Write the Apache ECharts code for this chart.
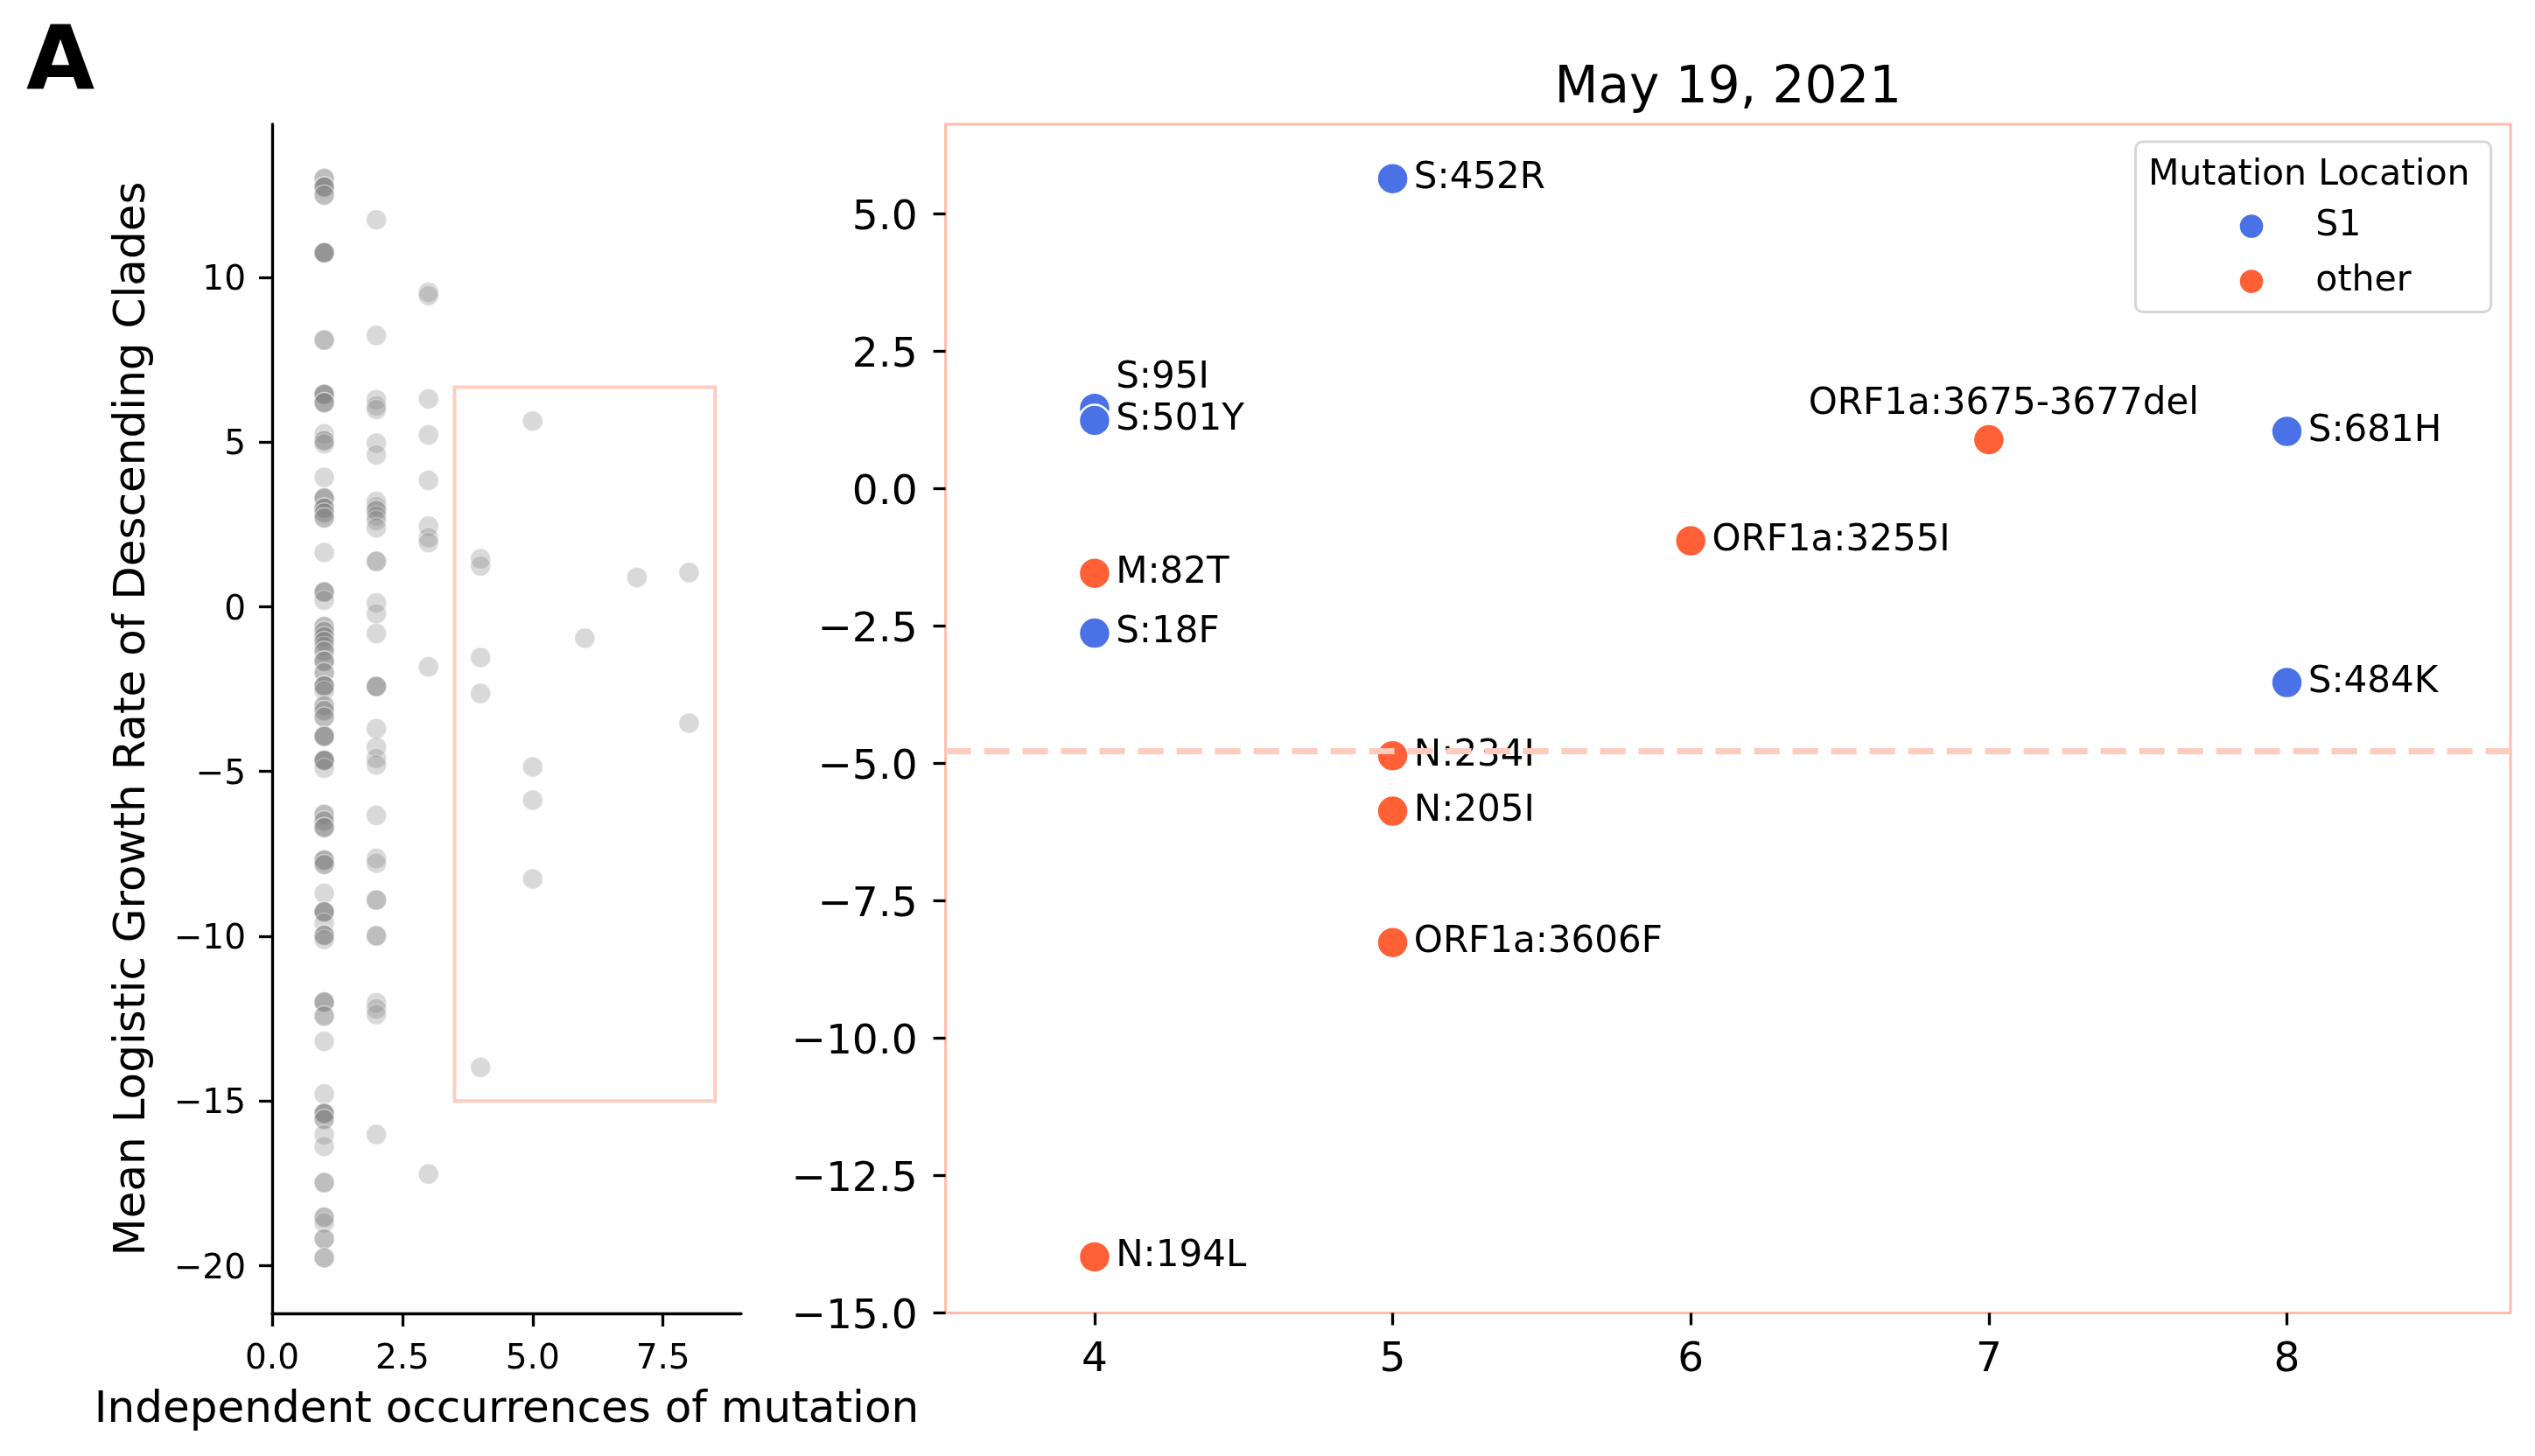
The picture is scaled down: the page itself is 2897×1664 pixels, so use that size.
<!DOCTYPE html>
<html>
<head>
<meta charset="utf-8">
<script src="https://cdn.jsdelivr.net/npm/echarts@6/dist/echarts.min.js"></script>
<style>
html,body{margin:0;padding:0;background:#ffffff;}
#chart{width:2897px;height:1664px;}
</style>
</head>
<body>
<div id="chart"></div>
<script>
// ---------- data ----------
// growth rates of mutations seen once, twice, three times (left panel, grey)
const growthOcc1 = [
  13.0, 13.0, 12.75, 12.75, 12.75, 12.75, 12.5, 12.5,
  10.75, 10.75, 10.75, 10.75, 10.75, 8.1, 8.1,
  6.45, 6.45, 6.45, 6.45, 6.2, 6.2, 6.2,
  5.25, 5.05, 5.05, 4.95, 3.93,
  3.3, 3.3, 3.3, 3.0, 3.0, 3.0, 2.85, 2.85, 2.7, 2.7,
  1.65, 0.45, 0.45, 0.45, 0.2,
  -0.6, -0.6, -0.75, -0.75, -0.9, -0.9, -1.05, -1.05, -1.2, -1.35, -1.35,
  -1.65, -1.65, -1.65, -2.0, -2.0, -2.4, -2.4, -2.4, -2.4, -2.55,
  -3.0, -3.0, -3.15, -3.15, -3.35, -3.35,
  -3.93, -3.93, -3.93, -3.93, -4.66, -4.66, -4.66, -4.66, -4.66, -4.9,
  -6.3, -6.3, -6.5, -6.5, -6.7, -6.7, -6.7,
  -7.69, -7.69, -7.69, -7.82, -7.82, -8.7,
  -9.26, -9.26, -9.26, -9.26, -9.6, -9.97, -9.97, -9.97, -10.1,
  -12.0, -12.0, -12.0, -12.42, -12.42, -13.19, -14.79,
  -15.38, -15.38, -15.38, -15.38, -15.56, -15.56, -16.03, -16.38,
  -17.48, -17.48, -18.53, -18.53, -18.7, -19.19, -19.19, -19.76, -19.76
];
const growthOcc2 = [
  11.75, 8.24, 6.29, 6.1, 5.99, 4.97, 4.61,
  3.2, 3.05, 2.93, 2.93, 2.76, 2.62, 2.4,
  1.38, 1.38, 0.12, -0.21, -0.81,
  -2.42, -2.42, -2.42, -3.7, -4.26, -4.6, -4.8,
  -6.33, -7.64, -7.78, -8.9, -8.9, -9.99, -9.99,
  -12.02, -12.2, -12.38, -16.02
];
const growthOcc3 = [9.55, 9.45, 6.31, 5.22, 3.84, 2.45, 2.1, 1.95, -1.82, -17.22];

// highlighted mutations (right panel, also grey in left panel)
const mutationNames = ['S:452R', 'S:95I', 'S:501Y', 'M:82T', 'S:18F', 'N:194L', 'N:234I', 'N:205I',
                       'ORF1a:3606F', 'ORF1a:3255I', 'ORF1a:3675-3677del', 'S:681H', 'S:484K'];
const mutationOccurrences = [5, 4, 4, 4, 4, 4, 5, 5, 5, 6, 7, 8, 8];
const mutationGrowth = [5.64, 1.46, 1.24, -1.54, -2.63, -13.98, -4.86, -5.87, -8.26, -0.95, 0.89, 1.04, -3.53];
const mutationLocation = ['S1', 'S1', 'S1', 'other', 'S1', 'other', 'other', 'other',
                          'other', 'other', 'other', 'S1', 'S1'];
const locationCategories = ['S1', 'other'];
const thresholdGrowth = -4.77;
const zoomBox = [[3.5, -15], [8.5, 6.67]];

// ticks
const leftXTicks = [0, 2.5, 5, 7.5];
const leftYTicks = [-20, -15, -10, -5, 0, 5, 10];
const rightXTicks = [4, 5, 6, 7, 8];
const rightYTicks = [-15, -12.5, -10, -7.5, -5, -2.5, 0, 2.5, 5];

const chartTitle = 'May 19, 2021';
const panelLetter = 'A';
const xTitle = 'Independent occurrences of mutation';
const yTitle = 'Mean Logistic Growth Rate of Descending Clades';
const legendTitle = 'Mutation Location';

// ---------- styles ----------
const FONT = 'DejaVu Sans';
const BLUE = '#4a72e6';
const ORANGE = '#ff6035';
const FRAME = '#ffbcab';
const RECT = '#ffcdc0';
const DASH = '#ffcbbd';
const colorOf = { 'S1': BLUE, 'other': ORANGE };
const labelPlacement = {
  'S:95I': { offset: [0, -35] },
  'ORF1a:3675-3677del': { position: 'top', distance: 0, offset: [17, 0] }
};
const minus = s => s.replace('-', '\u2212');

// ---------- build ----------
const leftData = []
  .concat(growthOcc1.map(v => [1, v]))
  .concat(growthOcc2.map(v => [2, v]))
  .concat(growthOcc3.map(v => [3, v]))
  .concat(mutationGrowth.map((v, i) => [mutationOccurrences[i], v]));

function rightSeriesData(loc) {
  const out = [];
  mutationNames.forEach((n, i) => {
    if (mutationLocation[i] !== loc) return;
    const item = { name: n, value: [mutationOccurrences[i], mutationGrowth[i]] };
    if (labelPlacement[n]) item.label = labelPlacement[n];
    out.push(item);
  });
  return out;
}

const tickStyle = { color: '#000', width: 3.3 };
const rightSeries = locationCategories.map((loc, k) => ({
  name: loc,
  type: 'scatter',
  xAxisIndex: 1,
  yAxisIndex: 1,
  symbol: 'circle',
  symbolSize: 36,
  z: 3 + k,
  itemStyle: { color: colorOf[loc], borderColor: '#ffffff', borderWidth: 2.5, opacity: 1 },
  emphasis: { disabled: true },
  label: {
    show: true,
    position: 'right',
    distance: 5,
    formatter: p => p.name,
    fontFamily: FONT,
    fontSize: 42,
    color: '#000'
  },
  data: rightSeriesData(loc),
  markLine: loc === 'other' ? {
    silent: true,
    symbol: ['none', 'none'],
    z: 6,
    label: { show: false },
    lineStyle: { color: DASH, width: 7, type: [29, 15], opacity: 1 },
    emphasis: { disabled: true },
    data: [{ yAxis: thresholdGrowth }]
  } : undefined
}));

const option = {
  animation: false,
  backgroundColor: '#ffffff',
  textStyle: { fontFamily: FONT, color: '#000' },
  title: [
    { text: panelLetter, left: 30, top: 25, padding: 0,
      textStyle: { fontFamily: FONT, fontSize: 101, fontWeight: 'bold', color: '#000' } },
    { text: chartTitle, left: 1974.8, top: 73, padding: 0, textAlign: 'center',
      textStyle: { fontFamily: FONT, fontSize: 58, fontWeight: 'normal', color: '#000' } }
  ],
  legend: {
    data: locationCategories,
    orient: 'vertical',
    left: 2557.7,
    top: 238,
    padding: 0,
    itemWidth: 28.6,
    itemHeight: 28.6,
    itemGap: 22,
    selectedMode: false,
    textStyle: { fontFamily: FONT, fontSize: 41, color: '#000', padding: [0, 0, 0, 54] }
  },
  graphic: [
    { type: 'rect', z: 0, silent: true,
      shape: { x: 2440.5, y: 161.9, width: 406.2, height: 194.5, r: 8 },
      style: { fill: '#ffffff', stroke: '#d6d6d6', lineWidth: 3 } },
    { type: 'text', z: 1, silent: true,
      style: { text: legendTitle, x: 2455, y: 200, font: '41px "DejaVu Sans"', fill: '#000',
               align: 'left', verticalAlign: 'middle' } }
  ],
  grid: [
    { left: 311, top: 142, width: 536, height: 1359 },
    { left: 1080.6, top: 142, width: 1788.4, height: 1358.5, show: true,
      borderColor: FRAME, borderWidth: 3, backgroundColor: 'transparent' }
  ],
  xAxis: [
    { gridIndex: 0, type: 'value', min: 0, max: 9,
      name: xTitle, nameLocation: 'middle', nameGap: 86,
      nameTextStyle: { fontFamily: FONT, fontSize: 50, color: '#000' },
      axisLine: { show: true, onZero: false, lineStyle: tickStyle },
      axisTick: { show: true, length: 15, lineStyle: tickStyle, customValues: leftXTicks },
      axisLabel: { customValues: leftXTicks, formatter: v => v.toFixed(1),
                   fontFamily: FONT, fontSize: 39, color: '#000', margin: 33 },
      splitLine: { show: false } },
    { gridIndex: 1, type: 'value', min: 3.5, max: 8.75,
      axisLine: { show: false, onZero: false },
      axisTick: { show: true, length: 14, lineStyle: tickStyle, customValues: rightXTicks },
      axisLabel: { customValues: rightXTicks, formatter: v => String(v),
                   fontFamily: FONT, fontSize: 47, color: '#000', margin: 31 },
      splitLine: { show: false } }
  ],
  yAxis: [
    { gridIndex: 0, type: 'value', min: -21.45, max: 14.65,
      name: yTitle, nameLocation: 'middle', nameGap: 134,
      nameTextStyle: { fontFamily: FONT, fontSize: 50, color: '#000' },
      axisLine: { show: true, onZero: false, lineStyle: tickStyle },
      axisTick: { show: true, length: 15, lineStyle: tickStyle, customValues: leftYTicks },
      axisLabel: { customValues: leftYTicks, formatter: v => minus(String(v)),
                   fontFamily: FONT, fontSize: 39, color: '#000', margin: 30,
                   verticalAlign: 'top', lineHeight: 8 },
      splitLine: { show: false } },
    { gridIndex: 1, type: 'value', min: -15, max: 6.63,
      axisLine: { show: false, onZero: false },
      axisTick: { show: true, length: 14, lineStyle: tickStyle, customValues: rightYTicks },
      axisLabel: { customValues: rightYTicks, formatter: v => minus(v.toFixed(1)),
                   fontFamily: FONT, fontSize: 47, color: '#000', margin: 32,
                   verticalAlign: 'top', lineHeight: 11 },
      splitLine: { show: false } }
  ],
  series: [
    { name: 'all mutations', type: 'scatter', xAxisIndex: 0, yAxisIndex: 0,
      symbol: 'circle', symbolSize: 23, z: 2,
      itemStyle: { color: '#808080', borderColor: '#ffffff', borderWidth: 1.5, opacity: 0.3 },
      emphasis: { disabled: true },
      data: leftData,
      markArea: {
        silent: true,
        itemStyle: { color: 'rgba(0,0,0,0)', borderColor: RECT, borderWidth: 4, opacity: 1 },
        emphasis: { disabled: true },
        data: [[{ coord: zoomBox[0] }, { coord: zoomBox[1] }]]
      } }
  ].concat(rightSeries)
};

const chart = echarts.init(document.getElementById('chart'), null, { renderer: 'canvas', devicePixelRatio: 1 });
chart.setOption(option);
</script>
</body>
</html>
